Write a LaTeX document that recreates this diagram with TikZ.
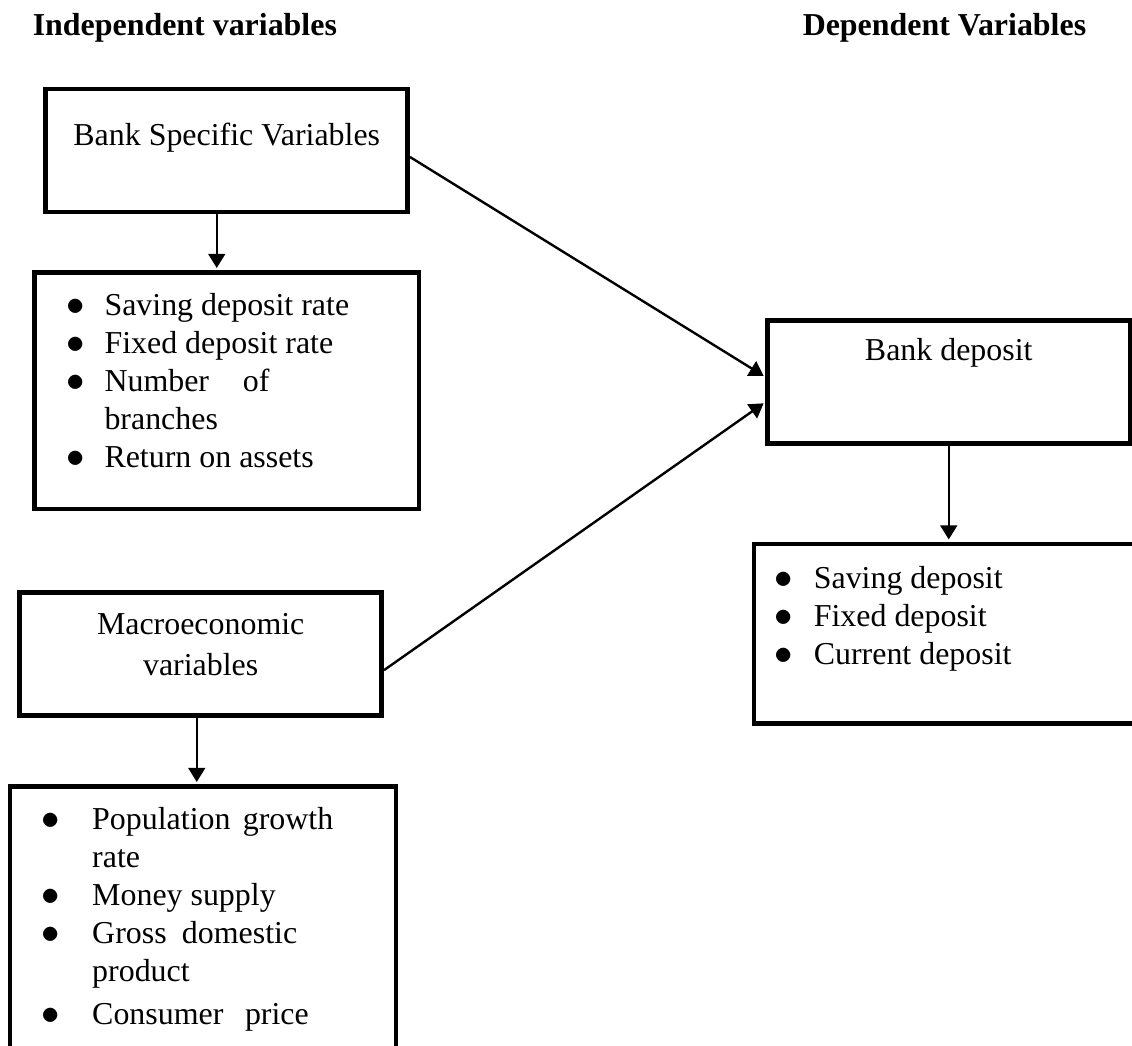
\documentclass[tikz,border=0pt]{standalone}
\usepackage{fontspec}
\usepackage{graphicx}
\setmainfont{Liberation Serif}
\usetikzlibrary{arrows.meta}

\newlength\pxu
\setlength\pxu{0.376pt}
\newcommand\fs{\fontsize{12}{14.38}\selectfont}
\newcommand\blt[1]{\makebox[0pt][c]{\scalebox{1.15}{$\bullet$}}\hspace{#1}}

\begin{document}
\begin{tikzpicture}[x=0.376pt, y=-0.376pt, font=\fs,
    box/.style={draw, line width=1.7pt, inner sep=0pt},
    mainbox/.style={box, minimum width=362\pxu, minimum height=123\pxu},
    txt/.style={inner sep=0pt},
    arr/.style={-{Triangle[length=5.3pt,width=6.3pt]}, line width=0.9pt, shorten >=0.85pt}]
    \useasboundingbox (0,0) rectangle (1132,1045);
    \clip (0,0) rectangle (1132,1045);

    \node[txt, anchor=base west, font=\fs\bfseries] (indep) at (32.3,35) {Independent variables};
    \node[txt, anchor=base east, font=\fs\bfseries] (dep) at (1086.7,35) {Dependent Variables};

    \node[mainbox] (bsv) at (226.75,150.5) {};
    \node[box, minimum width=384.5\pxu, minimum height=236.5\pxu] (bsvlist) at (226.75,390.75) {};
    \node[mainbox] (bd) at (948.75,382) {};
    \node[box, minimum width=416\pxu, minimum height=179.5\pxu] (bdlist) at (962,633.75) {};
    \node[mainbox] (mv) at (200.75,654.15) {};
    \node[box, minimum width=386\pxu, minimum height=313.5\pxu] (mvlist) at (202.8,943.25) {};

    \node[txt, anchor=base] (bsvtxt) at (226.75,145) {Bank Specific Variables};
    \node[txt, anchor=base west] (bsvitems) at (75,315) {\begin{tabular}[t]{@{}l@{}}
        \blt{29\pxu}Saving deposit rate\\
        \blt{29\pxu}Fixed deposit rate\\
        \blt{29\pxu}\makebox[165\pxu][s]{Number of}\\
        \hspace{29\pxu}branches\\
        \blt{29\pxu}Return on assets
    \end{tabular}};

    \node[txt, anchor=base] (bdtxt) at (948.75,360.7) {Bank deposit};
    \node[txt, anchor=base west] (bditems) at (783.3,588.3) {\begin{tabular}[t]{@{}l@{}}
        \blt{30\pxu}Saving deposit\\
        \blt{30\pxu}Fixed deposit\\
        \blt{30\pxu}Current deposit
    \end{tabular}};

    \node[txt, anchor=base] (mvtxt) at (200.7,634) {\begin{tabular}[t]{@{}c@{}}
        Macroeconomic\\[1.3pt]
        variables
    \end{tabular}};
    \node[txt, anchor=base west] (mvitems) at (50,829) {\begin{tabular}[t]{@{}l@{}}
        \blt{41.7\pxu}\makebox[241\pxu][s]{Population growth}\\
        \hspace{41.7\pxu}rate\\
        \blt{41.7\pxu}Money supply\\
        \blt{41.7\pxu}\makebox[205\pxu][s]{Gross domestic}\\
        \hspace{41.7\pxu}product\\[1.6pt]
        \blt{41.7\pxu}\makebox[216.6\pxu][s]{Consumer price}
    \end{tabular}};

    \coordinate (bsvout) at ([xshift=-10\pxu]bsv.south);
    \coordinate (mvout) at ([xshift=-4\pxu]mv.south);

    \draw[arr] (bsvout) -- (bsvout |- bsvlist.north);
    \draw[arr] ([yshift=-6.5\pxu]bsv.east) -- ([yshift=5\pxu]bd.west);
    \draw[arr] ([yshift=-16\pxu]mv.east) -- ([yshift=-20\pxu]bd.west);
    \draw[arr] (bd.south) -- (bd.south |- bdlist.north);
    \draw[arr] (mvout) -- (mvout |- mvlist.north);
\end{tikzpicture}
\end{document}
